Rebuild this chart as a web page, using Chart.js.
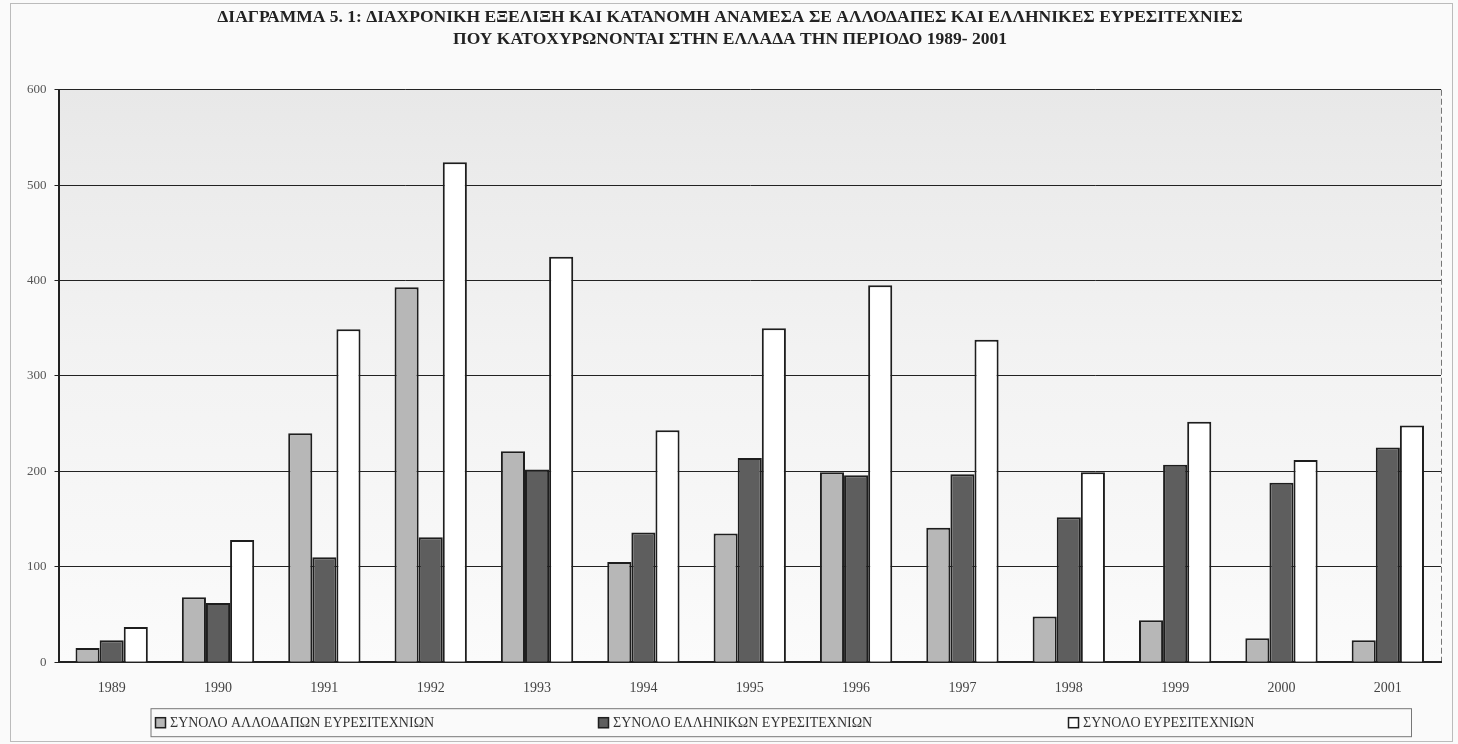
<!DOCTYPE html>
<html>
<head>
<meta charset="utf-8">
<script src="https://cdn.jsdelivr.net/npm/chart.js@4"></script>
<style>
  html, body { margin: 0; padding: 0; background: #fafafa; }
  #wrap { width: 1458px; height: 744px; }
</style>
</head>
<body>
<div id="wrap"><canvas id="myChart" width="1458" height="744"></canvas></div>
<script>
// data
const years = ['1989','1990','1991','1992','1993','1994','1995','1996','1997','1998','1999','2000','2001'];
const foreign = [15, 68, 240, 393, 221, 105, 135, 199, 141, 48, 44, 25, 23];
const greek = [23, 62, 110, 131, 202, 136, 214, 196, 197, 152, 207, 188, 225];
const total = [37, 128, 349, 524, 425, 243, 350, 395, 338, 199, 252, 212, 248];
const yTicks = [0, 100, 200, 300, 400, 500, 600];

const titleLines = [
    'ΔΙΑΓΡΑΜΜΑ 5. 1: ΔΙΑΧΡΟΝΙΚΗ ΕΞΕΛΙΞΗ ΚΑΙ ΚΑΤΑΝΟΜΗ ΑΝΑΜΕΣΑ ΣΕ ΑΛΛΟΔΑΠΕΣ ΚΑΙ ΕΛΛΗΝΙΚΕΣ ΕΥΡΕΣΙΤΕΧΝΙΕΣ',
    'ΠΟΥ ΚΑΤΟΧΥΡΩΝΟΝΤΑΙ ΣΤΗΝ ΕΛΛΑΔΑ ΤΗΝ ΠΕΡΙΟΔΟ 1989- 2001'
];

// grey plot background, lighter towards the bottom + faint page frame
const plotBg = {
    id: 'plotBg',
    beforeDraw(chart) {
        const {ctx, chartArea: a} = chart;
        ctx.save();
        ctx.strokeStyle = '#bbb';
        ctx.lineWidth = 1;
        ctx.strokeRect(10.5, 3.5, chart.width - 16, chart.height - 6);
        const g = ctx.createLinearGradient(0, a.top, 0, a.bottom);
        g.addColorStop(0, '#e8e8e8');
        g.addColorStop(0.45, '#f2f2f2');
        g.addColorStop(1, '#fbfbfb');
        ctx.fillStyle = g;
        ctx.fillRect(a.left, a.top, a.right - a.left, a.bottom - a.top);
        ctx.strokeStyle = '#777';
        ctx.setLineDash([6, 3]);
        ctx.beginPath();
        ctx.moveTo(a.right + 0.5, a.top);
        ctx.lineTo(a.right + 0.5, a.bottom);
        ctx.stroke();
        ctx.restore();
    }
};

// legend drawn in its own long box under the axis
const legendX = [155, 598, 1068];
const legendBox = {
    id: 'legendBox',
    afterDraw(chart) {
        const {ctx, chartArea: a} = chart;
        const top = a.bottom + 46, h = 28;
        ctx.save();
        ctx.strokeStyle = '#777';
        ctx.lineWidth = 1;
        ctx.strokeRect(a.left + 92.5, top + 0.5, a.right - a.left - 122, h);
        ctx.font = '14px "Liberation Serif"';
        ctx.textBaseline = 'middle';
        chart.data.datasets.forEach((ds, i) => {
            const x = legendX[i], y = top + h / 2 + 1;
            ctx.fillStyle = ds.backgroundColor;
            ctx.fillRect(x, y - 6, 11, 11);
            ctx.strokeStyle = '#1e1e1e';
            ctx.lineWidth = 1.5;
            ctx.strokeRect(x + 0.5, y - 5.5, 10, 10);
            ctx.fillStyle = '#333';
            ctx.fillText(ds.label, x + 15, y);
        });
        ctx.restore();
    }
};

const ctx = document.getElementById('myChart');
new Chart(ctx, {
    type: 'bar',
    data: {
        labels: years,
        datasets: [{
            label: 'ΣΥΝΟΛΟ ΑΛΛΟΔΑΠΩΝ ΕΥΡΕΣΙΤΕΧΝΙΩΝ',
            data: foreign,
            backgroundColor: '#b7b7b7',
            borderColor: '#1e1e1e',
            borderWidth: 2
        }, {
            label: 'ΣΥΝΟΛΟ ΕΛΛΗΝΙΚΩΝ ΕΥΡΕΣΙΤΕΧΝΙΩΝ',
            data: greek,
            backgroundColor: '#5e5e5e',
            borderColor: '#1e1e1e',
            borderWidth: 2
        }, {
            label: 'ΣΥΝΟΛΟ ΕΥΡΕΣΙΤΕΧΝΙΩΝ',
            data: total,
            backgroundColor: '#ffffff',
            borderColor: '#1e1e1e',
            borderWidth: 2
        }]
    },
    options: {
        responsive: false,
        animation: false,
        layout: { padding: { left: 19, right: 17, top: 0, bottom: 37 } },
        datasets: { bar: { categoryPercentage: 0.68, barPercentage: 1.0 } },
        plugins: {
            title: {
                display: true,
                text: titleLines,
                color: '#222',
                font: { family: 'Liberation Serif', size: 17.5, weight: 'bold', lineHeight: 1.25 },
                padding: { top: 7, bottom: 39 }
            },
            legend: { display: false },
            tooltip: { enabled: false }
        },
        scales: {
            x: {
                grid: { display: false },
                border: { color: '#222', width: 2 },
                ticks: {
                    color: '#444',
                    font: { family: 'Liberation Serif', size: 14 },
                    padding: 10
                }
            },
            y: {
                min: 0,
                max: 600,
                afterBuildTicks(axis) { axis.ticks = yTicks.map(v => ({ value: v })); },
                grid: { color: '#222', lineWidth: 1, drawTicks: true, tickLength: 4 },
                border: { color: '#222', width: 2 },
                ticks: {
                    color: '#555',
                    font: { family: 'Liberation Serif', size: 13 },
                    padding: 8
                }
            }
        }
    },
    plugins: [plotBg, legendBox]
});
</script>
</body>
</html>
